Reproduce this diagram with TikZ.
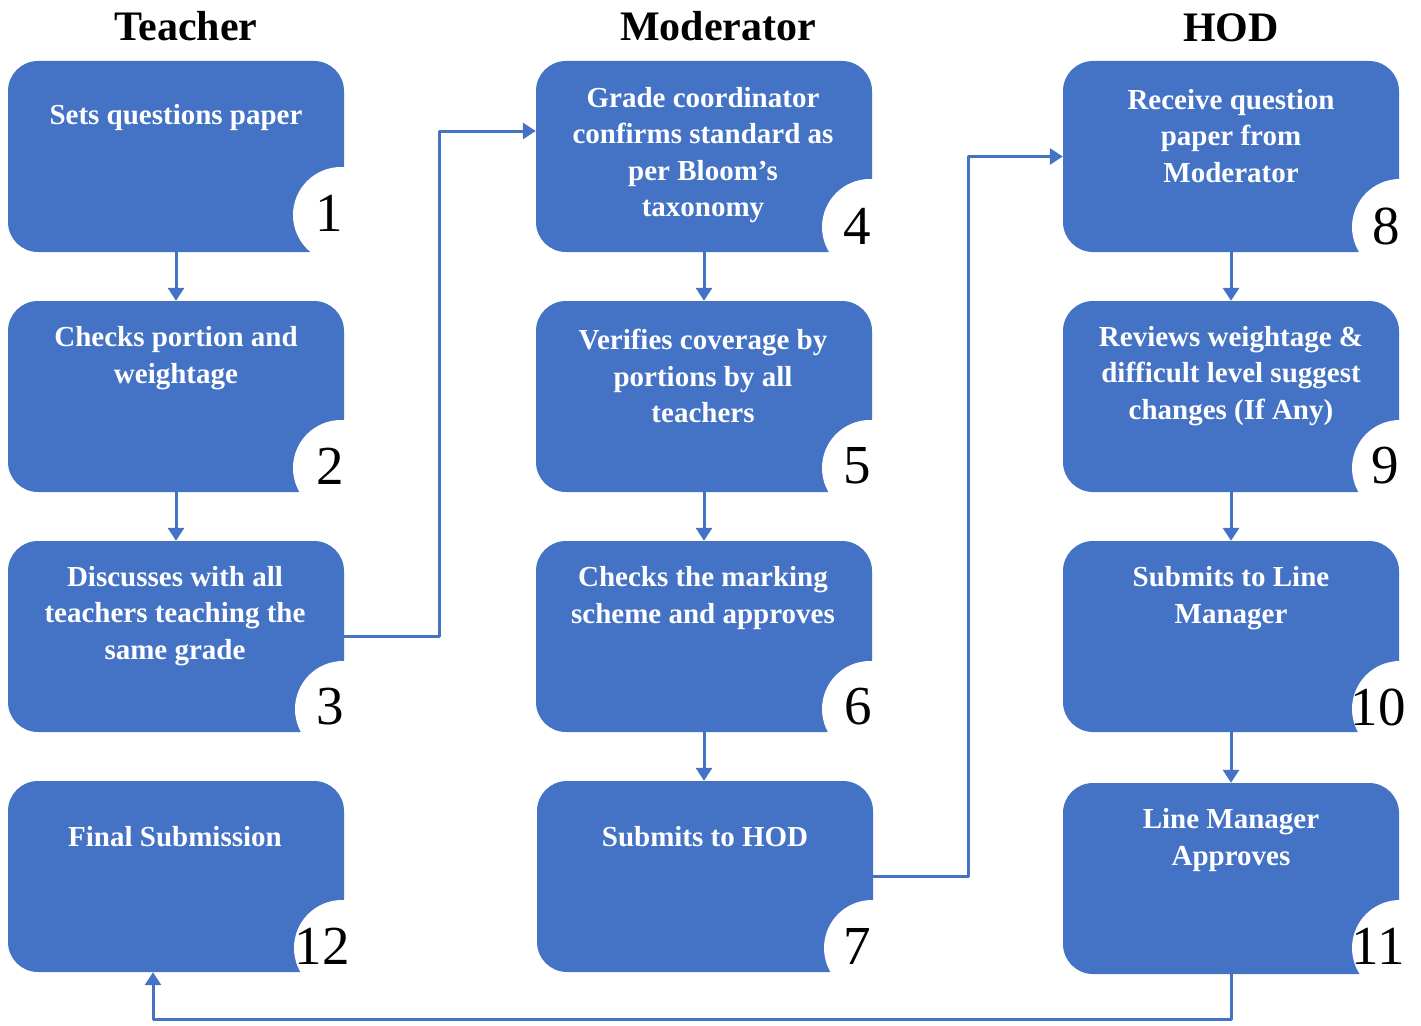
\documentclass[tikz,border=0pt]{standalone}
\usepackage{fontspec}
\setmainfont{Liberation Serif}
\usetikzlibrary{arrows.meta}
\definecolor{smartblue}{HTML}{4472C4}
\tikzset{
 stepbox/.style={fill=smartblue, rounded corners=30pt, minimum width=336pt, minimum height=191pt, inner sep=0pt},
 steptext/.style={text=white, font=\fontsize{29}{36.5}\selectfont\bfseries, align=center, inner sep=0pt},
 numdisc/.style={circle, fill=white, minimum size=96pt, inner sep=0pt},
 numtext/.style={font=\fontsize{55}{55}\selectfont, inner sep=0pt},
 heading/.style={font=\fontsize{42}{42}\selectfont\bfseries, inner sep=0pt},
 flow/.style={smartblue, line width=3pt, -{Triangle[length=13pt,width=16pt]}},
}
\begin{document}
\begin{tikzpicture}[x=1pt, y=-1pt, line join=round]
 \useasboundingbox (0,0) rectangle (1421,1025);
 % column heads
 \node[heading] (hteacher) at (186,26) {Teacher};
 \node[heading] (hmod) at (718,26) {Moderator};
 \node[heading] (hhod) at (1231,28) {HOD};
 % teacher
 \node[stepbox] (b1) at (176,156.5) {};
 \node[stepbox] (b2) at (176,396.5) {};
 \node[stepbox] (b3) at (176,636.5) {};
 \node[stepbox] (b12) at (176,876.5) {};
 % moderator
 \node[stepbox] (b4) at (704,156.5) {};
 \node[stepbox] (b5) at (704,396.5) {};
 \node[stepbox] (b6) at (704,636.5) {};
 \node[stepbox] (b7) at (705,876.5) {};
 % hod
 \node[stepbox] (b8) at (1231,156.5) {};
 \node[stepbox] (b9) at (1231,396.5) {};
 \node[stepbox] (b10) at (1231,636.5) {};
 \node[stepbox] (b11) at (1231,878.5) {};
 % texts
 \node[steptext] (t1) at (176,118) {Sets questions paper};
 \node[steptext] (t2) at (176,358) {Checks portion and\\weightage};
 \node[steptext] (t3) at (175,616) {Discusses with all\\teachers teaching the\\same grade};
 \node[steptext] (t12) at (175,837) {Final Submission};
 \node[steptext] (t4) at (703,155) {Grade coordinator\\confirms standard as\\per Bloom’s\\taxonomy};
 \node[steptext] (t5) at (703,376) {Verifies coverage by\\portions by all\\teachers};
 \node[steptext] (t6) at (703,598) {Checks the marking\\scheme and approves};
 \node[steptext] (t7) at (705,837) {Submits to HOD};
 \node[steptext] (t8) at (1231,136) {Receive question\\paper from\\Moderator};
 \node[steptext] (t9) at (1231,376) {Reviews weightage \&\\difficult level suggest\\changes (If Any)};
 \node[steptext] (t10) at (1231,598) {Submits to Line\\Manager};
 \node[steptext] (t11) at (1231,840) {Line Manager\\Approves};
 % number discs
 \node[numdisc] (c1) at (341,215) {};
 \node[numdisc] (c2) at (341,468) {};
 \node[numdisc] (c3) at (343,709) {};
 \node[numdisc] (c12) at (342,948) {};
 \node[numdisc] (c4) at (870,227) {};
 \node[numdisc] (c5) at (870,468) {};
 \node[numdisc] (c6) at (870,709) {};
 \node[numdisc] (c7) at (872,948) {};
 \node[numdisc] (c8) at (1400,227) {};
 \node[numdisc] (c9) at (1400,468) {};
 \node[numdisc] (c10) at (1400,709) {};
 \node[numdisc] (c11) at (1400,948) {};
 \node[numtext] (n1) at (329,213) {1};
 \node[numtext] (n2) at (330,466) {2};
 \node[numtext] (n3) at (330,707) {3};
 \node[numtext] (n12) at (322,946) {12};
 \node[numtext] (n4) at (857,226) {4};
 \node[numtext] (n5) at (857,466) {5};
 \node[numtext] (n6) at (858,707) {6};
 \node[numtext] (n7) at (857,946) {7};
 \node[numtext] (n8) at (1386,226) {8};
 \node[numtext] (n9) at (1385,466) {9};
 \node[numtext] (n10) at (1378,707) {10};
 \node[numtext] (n11) at (1378,946) {11};
 % arrows
 \draw[flow] (b1) -- (b2);
 \draw[flow] (b2) -- (b3);
 \draw[flow] (b4) -- (b5);
 \draw[flow] (b5) -- (b6);
 \draw[flow] (b6.south) -- (b6.south |- b7.north);
 \draw[flow] (b8) -- (b9);
 \draw[flow] (b9) -- (b10);
 \draw[flow] (b10) -- (b11);
 \draw[flow] (b3.east) -- ++(95,0) |- ([yshift=25.5pt]b4.west);
 \draw[flow] (b7.east) -- ++(95,0) |- (b8.west);
 \draw[flow] (b11.south) -- ++(0,45) -| ([xshift=-23pt]b12.south);
\end{tikzpicture}
\end{document}
